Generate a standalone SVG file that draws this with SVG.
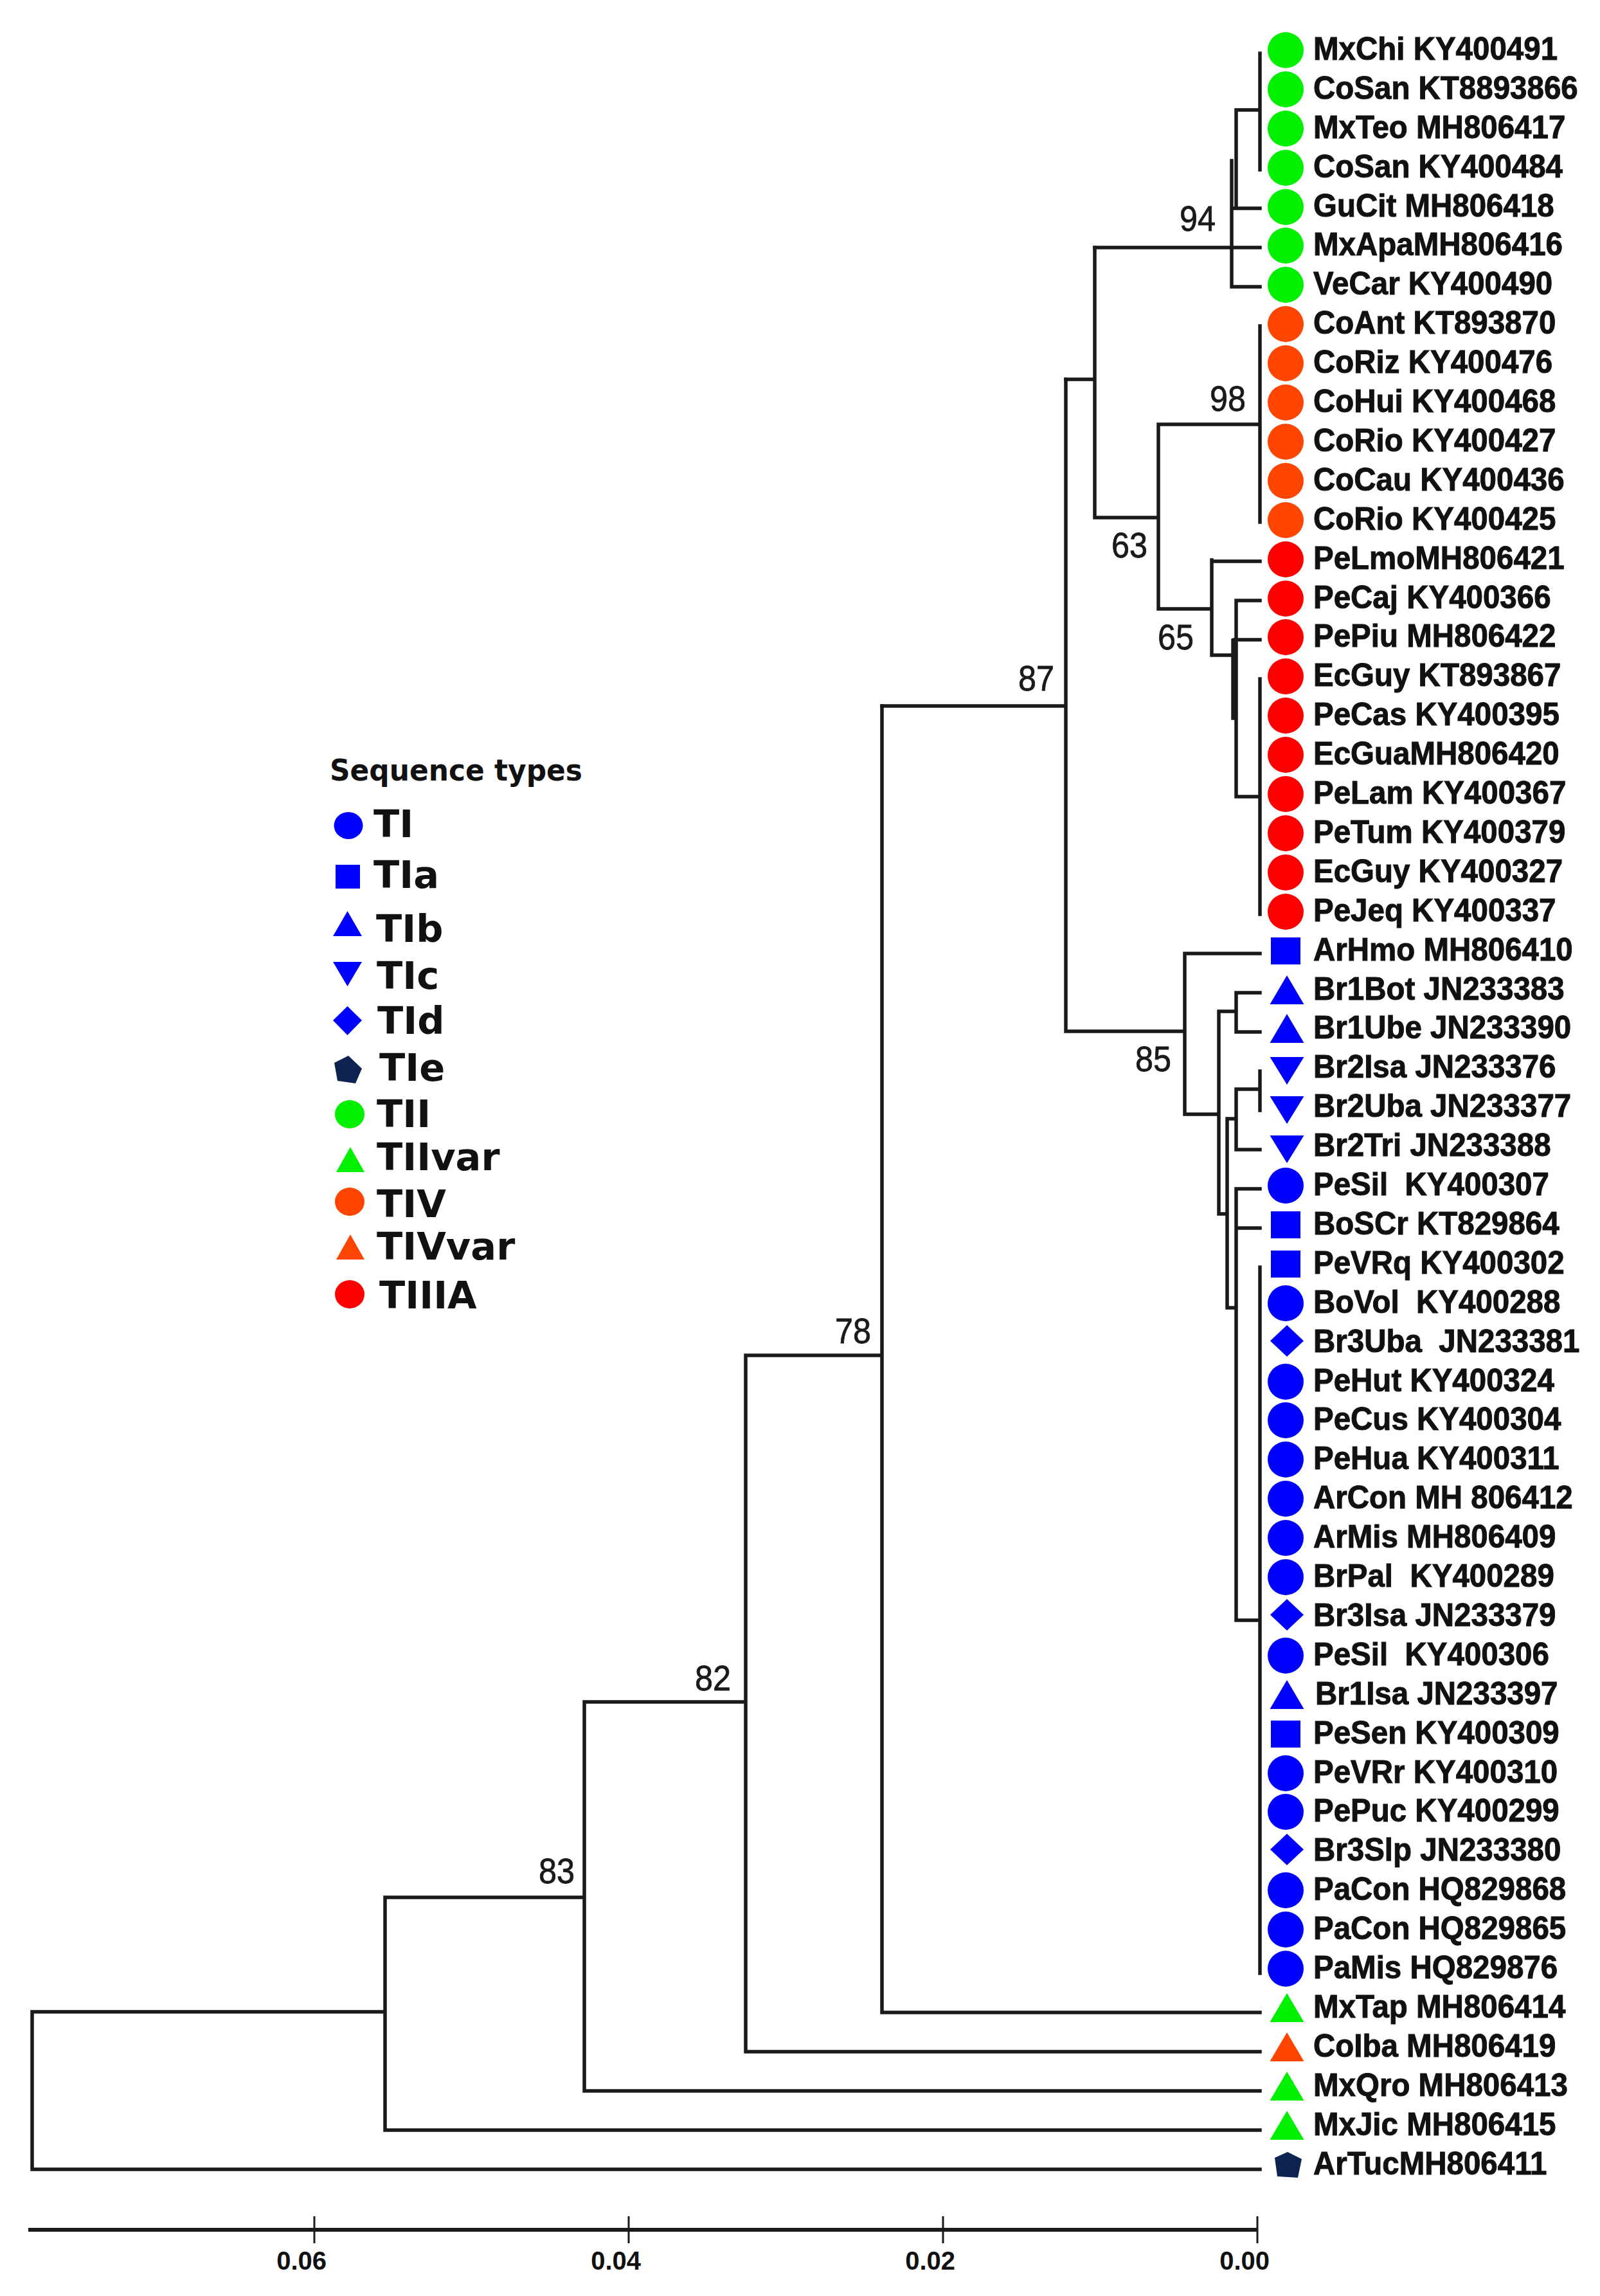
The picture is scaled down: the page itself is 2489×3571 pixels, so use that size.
<svg xmlns="http://www.w3.org/2000/svg" xmlns:xlink="http://www.w3.org/1999/xlink" width="2489" height="3571" viewBox="0 0 2489 3571">
<style>
.br{fill:none;stroke:#1a1a1a;stroke-width:5.5;stroke-linecap:square}
.lb{font-family:"Liberation Sans",Arial,sans-serif;font-weight:bold;font-size:50px;fill:#111;stroke:#111;stroke-width:1;white-space:pre}
.bs{font-family:"Liberation Sans",Arial,sans-serif;font-size:56px;fill:#1a1a1a;stroke:#1a1a1a;stroke-width:0.8;text-anchor:end}
.lg{font-family:"DejaVu Sans",Verdana,sans-serif;font-weight:bold;font-size:59px;fill:#111}
.ax{font-family:"Liberation Sans",Arial,sans-serif;font-weight:bold;font-size:40px;fill:#111;text-anchor:end}
.g{fill:#00f000}.o{fill:#ff4500}.r{fill:#ff0000}.b{fill:#0000ff}.n{fill:#0d2350}
</style>
<defs>
<circle id="c" cx="0" cy="0" r="28"/>
<rect id="sq" x="-23" y="-21" width="46" height="42"/>
<polygon id="tu" points="0,-23 26.5,22 -26.5,22"/>
<polygon id="td" points="-26.5,-17 26.5,-17 0,26"/>
<polygon id="dm" points="0,-27 26,-2.5 0,22 -26,-2.5"/>
<polygon id="pe" points="3,-20 25,-9 19,20 -13,18 -17,-11"/>
</defs>
<rect width="2489" height="3571" fill="#fff"/>

<g id="connectors">
<path class="br" d="M1960,83V264 M1923,171H1960 M1923,171V324 M1920,324H1960 M1916,250V446 M1703,385H1960 M1916,446H1960"/>
<path class="br" d="M1703,385V805 M1658,590H1703 M1703,805H1802 M1802,660V947 M1802,660H1960 M1960,507V812 M1802,947H1885 M1885,871V1019 M1885,873H1960 M1885,1019H1923 M1923,934V1239 M1923,934H1960 M1920,995H1960 M1918,996V1117 M1923,1239H1960 M1960,1056V1422"/>
<path class="br" d="M1658,590V1604 M1372,1098H1658 M1658,1604H1843 M1843,1483V1733 M1843,1483H1960 M1843,1733H1896 M1896,1573V1888 M1896,1573H1923 M1923,1544V1605 M1923,1544H1960 M1923,1605H1960 M1896,1888H1909 M1909,1740V2034 M1909,1740H1923 M1923,1694V1788 M1923,1694H1960 M1960,1666V1727 M1923,1788H1960 M1909,2034H1923 M1923,1849V2520 M1923,1849H1960 M1923,1910H1960 M1923,2520H1960 M1960,1971V3069"/>
<path class="br" d="M1372,1098V3130 M1372,3130H1960 M1160,2108H1372 M1160,2108V3191 M1160,3191H1960 M909,2647H1160 M909,2647V3252 M909,3252H1960 M599,2951H909 M599,2951V3313 M599,3313H1960 M50,3129H599 M50,3129V3374 M50,3374H1960"/>
<g id="bootstrap">
<text class="bs" transform="translate(1891,359) scale(0.9,1)">94</text>
<text class="bs" transform="translate(1938,639) scale(0.9,1)">98</text>
<text class="bs" transform="translate(1785,867) scale(0.9,1)">63</text>
<text class="bs" transform="translate(1857,1010) scale(0.9,1)">65</text>
<text class="bs" transform="translate(1822,1666) scale(0.9,1)">85</text>
<text class="bs" transform="translate(1640,1074) scale(0.9,1)">87</text>
<text class="bs" transform="translate(1355,2089) scale(0.9,1)">78</text>
<text class="bs" transform="translate(1137,2629) scale(0.9,1)">82</text>
<text class="bs" transform="translate(894,2929) scale(0.9,1)">83</text>
</g>
</g>

<g id="leaves">
<g id="leaf0"><use href="#c" x="2000" y="78" class="g"/><text class="lb" transform="translate(2043,93) scale(0.95,1)">MxChi KY400491</text></g>
<g id="leaf1"><use href="#c" x="2000" y="139" class="g"/><text class="lb" transform="translate(2043,154) scale(0.95,1)">CoSan KT8893866</text></g>
<g id="leaf2"><use href="#c" x="2000" y="200" class="g"/><text class="lb" transform="translate(2043,215) scale(0.95,1)">MxTeo MH806417</text></g>
<g id="leaf3"><use href="#c" x="2000" y="261" class="g"/><text class="lb" transform="translate(2043,276) scale(0.95,1)">CoSan KY400484</text></g>
<g id="leaf4"><use href="#c" x="2000" y="322" class="g"/><text class="lb" transform="translate(2043,337) scale(0.95,1)">GuCit MH806418</text></g>
<g id="leaf5"><use href="#c" x="2000" y="382" class="g"/><text class="lb" transform="translate(2043,397) scale(0.95,1)">MxApaMH806416</text></g>
<g id="leaf6"><use href="#c" x="2000" y="443" class="g"/><text class="lb" transform="translate(2043,458) scale(0.95,1)">VeCar KY400490</text></g>
<g id="leaf7"><use href="#c" x="2000" y="504" class="o"/><text class="lb" transform="translate(2043,519) scale(0.95,1)">CoAnt KT893870</text></g>
<g id="leaf8"><use href="#c" x="2000" y="565" class="o"/><text class="lb" transform="translate(2043,580) scale(0.95,1)">CoRiz KY400476</text></g>
<g id="leaf9"><use href="#c" x="2000" y="626" class="o"/><text class="lb" transform="translate(2043,641) scale(0.95,1)">CoHui KY400468</text></g>
<g id="leaf10"><use href="#c" x="2000" y="687" class="o"/><text class="lb" transform="translate(2043,702) scale(0.95,1)">CoRio KY400427</text></g>
<g id="leaf11"><use href="#c" x="2000" y="748" class="o"/><text class="lb" transform="translate(2043,763) scale(0.95,1)">CoCau KY400436</text></g>
<g id="leaf12"><use href="#c" x="2000" y="809" class="o"/><text class="lb" transform="translate(2043,824) scale(0.95,1)">CoRio KY400425</text></g>
<g id="leaf13"><use href="#c" x="2000" y="870" class="r"/><text class="lb" transform="translate(2043,885) scale(0.95,1)">PeLmoMH806421</text></g>
<g id="leaf14"><use href="#c" x="2000" y="931" class="r"/><text class="lb" transform="translate(2043,946) scale(0.95,1)">PeCaj KY400366</text></g>
<g id="leaf15"><use href="#c" x="2000" y="991" class="r"/><text class="lb" transform="translate(2043,1006) scale(0.95,1)">PePiu MH806422</text></g>
<g id="leaf16"><use href="#c" x="2000" y="1052" class="r"/><text class="lb" transform="translate(2043,1067) scale(0.95,1)">EcGuy KT893867</text></g>
<g id="leaf17"><use href="#c" x="2000" y="1113" class="r"/><text class="lb" transform="translate(2043,1128) scale(0.95,1)">PeCas KY400395</text></g>
<g id="leaf18"><use href="#c" x="2000" y="1174" class="r"/><text class="lb" transform="translate(2043,1189) scale(0.95,1)">EcGuaMH806420</text></g>
<g id="leaf19"><use href="#c" x="2000" y="1235" class="r"/><text class="lb" transform="translate(2043,1250) scale(0.95,1)">PeLam KY400367</text></g>
<g id="leaf20"><use href="#c" x="2000" y="1296" class="r"/><text class="lb" transform="translate(2043,1311) scale(0.95,1)">PeTum KY400379</text></g>
<g id="leaf21"><use href="#c" x="2000" y="1357" class="r"/><text class="lb" transform="translate(2043,1372) scale(0.95,1)">EcGuy KY400327</text></g>
<g id="leaf22"><use href="#c" x="2000" y="1418" class="r"/><text class="lb" transform="translate(2043,1433) scale(0.95,1)">PeJeq KY400337</text></g>
<g id="leaf23"><use href="#sq" x="2000" y="1479" class="b"/><text class="lb" transform="translate(2043,1494) scale(0.95,1)">ArHmo MH806410</text></g>
<g id="leaf24"><use href="#tu" x="2002" y="1540" class="b"/><text class="lb" transform="translate(2043,1555) scale(0.95,1)">Br1Bot JN233383</text></g>
<g id="leaf25"><use href="#tu" x="2002" y="1600" class="b"/><text class="lb" transform="translate(2043,1615) scale(0.95,1)">Br1Ube JN233390</text></g>
<g id="leaf26"><use href="#td" x="2002" y="1661" class="b"/><text class="lb" transform="translate(2043,1676) scale(0.95,1)">Br2Isa JN233376</text></g>
<g id="leaf27"><use href="#td" x="2002" y="1722" class="b"/><text class="lb" transform="translate(2043,1737) scale(0.95,1)">Br2Uba JN233377</text></g>
<g id="leaf28"><use href="#td" x="2002" y="1783" class="b"/><text class="lb" transform="translate(2043,1798) scale(0.95,1)">Br2Tri JN233388</text></g>
<g id="leaf29"><use href="#c" x="2000" y="1844" class="b"/><text class="lb" transform="translate(2043,1859) scale(0.95,1)">PeSil  KY400307</text></g>
<g id="leaf30"><use href="#sq" x="2000" y="1905" class="b"/><text class="lb" transform="translate(2043,1920) scale(0.95,1)">BoSCr KT829864</text></g>
<g id="leaf31"><use href="#sq" x="2000" y="1966" class="b"/><text class="lb" transform="translate(2043,1981) scale(0.95,1)">PeVRq KY400302</text></g>
<g id="leaf32"><use href="#c" x="2000" y="2027" class="b"/><text class="lb" transform="translate(2043,2042) scale(0.95,1)">BoVol  KY400288</text></g>
<g id="leaf33"><use href="#dm" x="2002" y="2088" class="b"/><text class="lb" transform="translate(2043,2103) scale(0.95,1)">Br3Uba  JN233381</text></g>
<g id="leaf34"><use href="#c" x="2000" y="2149" class="b"/><text class="lb" transform="translate(2043,2164) scale(0.95,1)">PeHut KY400324</text></g>
<g id="leaf35"><use href="#c" x="2000" y="2209" class="b"/><text class="lb" transform="translate(2043,2224) scale(0.95,1)">PeCus KY400304</text></g>
<g id="leaf36"><use href="#c" x="2000" y="2270" class="b"/><text class="lb" transform="translate(2043,2285) scale(0.95,1)">PeHua KY400311</text></g>
<g id="leaf37"><use href="#c" x="2000" y="2331" class="b"/><text class="lb" transform="translate(2043,2346) scale(0.95,1)">ArCon MH 806412</text></g>
<g id="leaf38"><use href="#c" x="2000" y="2392" class="b"/><text class="lb" transform="translate(2043,2407) scale(0.95,1)">ArMis MH806409</text></g>
<g id="leaf39"><use href="#c" x="2000" y="2453" class="b"/><text class="lb" transform="translate(2043,2468) scale(0.95,1)">BrPal  KY400289</text></g>
<g id="leaf40"><use href="#dm" x="2002" y="2514" class="b"/><text class="lb" transform="translate(2043,2529) scale(0.95,1)">Br3Isa JN233379</text></g>
<g id="leaf41"><use href="#c" x="2000" y="2575" class="b"/><text class="lb" transform="translate(2043,2590) scale(0.95,1)">PeSil  KY400306</text></g>
<g id="leaf42"><use href="#tu" x="2002" y="2636" class="b"/><text class="lb" transform="translate(2046,2651) scale(0.95,1)">Br1Isa JN233397</text></g>
<g id="leaf43"><use href="#sq" x="2000" y="2697" class="b"/><text class="lb" transform="translate(2043,2712) scale(0.95,1)">PeSen KY400309</text></g>
<g id="leaf44"><use href="#c" x="2000" y="2758" class="b"/><text class="lb" transform="translate(2043,2773) scale(0.95,1)">PeVRr KY400310</text></g>
<g id="leaf45"><use href="#c" x="2000" y="2818" class="b"/><text class="lb" transform="translate(2043,2833) scale(0.95,1)">PePuc KY400299</text></g>
<g id="leaf46"><use href="#dm" x="2002" y="2879" class="b"/><text class="lb" transform="translate(2043,2894) scale(0.95,1)">Br3Slp JN233380</text></g>
<g id="leaf47"><use href="#c" x="2000" y="2940" class="b"/><text class="lb" transform="translate(2043,2955) scale(0.95,1)">PaCon HQ829868</text></g>
<g id="leaf48"><use href="#c" x="2000" y="3001" class="b"/><text class="lb" transform="translate(2043,3016) scale(0.95,1)">PaCon HQ829865</text></g>
<g id="leaf49"><use href="#c" x="2000" y="3062" class="b"/><text class="lb" transform="translate(2043,3077) scale(0.95,1)">PaMis HQ829876</text></g>
<g id="leaf50"><use href="#tu" x="2002" y="3123" class="g"/><text class="lb" transform="translate(2043,3138) scale(0.95,1)">MxTap MH806414</text></g>
<g id="leaf51"><use href="#tu" x="2002" y="3184" class="o"/><text class="lb" transform="translate(2043,3199) scale(0.95,1)">CoIba MH806419</text></g>
<g id="leaf52"><use href="#tu" x="2002" y="3245" class="g"/><text class="lb" transform="translate(2043,3260) scale(0.95,1)">MxQro MH806413</text></g>
<g id="leaf53"><use href="#tu" x="2002" y="3306" class="g"/><text class="lb" transform="translate(2043,3321) scale(0.95,1)">MxJic MH806415</text></g>
<g id="leaf54"><use href="#pe" x="2000" y="3367" class="n"/><text class="lb" transform="translate(2043,3382) scale(0.95,1)">ArTucMH806411</text></g>
</g>

<g id="legend">
<text id="legend-title" x="513" y="1214" font-family="'DejaVu Sans',Verdana,sans-serif" font-weight="bold" font-size="46" fill="#111" textLength="393" lengthAdjust="spacingAndGlyphs">Sequence types</text>
<g id="lg-TI"><ellipse cx="542" cy="1284" rx="22.5" ry="21" class="b"/><text class="lg" x="581" y="1302">TI</text></g>
<g id="lg-TIa"><rect x="522" y="1345" width="38" height="37" class="b"/><text class="lg" x="581" y="1381">TIa</text></g>
<g id="lg-TIb"><polygon points="518,1456 563,1456 540.5,1417" class="b"/><text class="lg" x="585" y="1465">TIb</text></g>
<g id="lg-TIc"><polygon points="518,1496 563,1496 540.5,1534" class="b"/><text class="lg" x="586" y="1538">TIc</text></g>
<g id="lg-TId"><polygon points="518,1587 540.5,1565 563,1587 540.5,1610" class="b"/><text class="lg" x="587" y="1608">TId</text></g>
<g id="lg-TIe"><polygon points="542,1642 563,1662 553,1685 525,1681 520,1653" class="n"/><text class="lg" x="590" y="1681">TIe</text></g>
<g id="lg-TII"><ellipse cx="544" cy="1733" rx="23" ry="22" class="g"/><text class="lg" x="586" y="1753">TII</text></g>
<g id="lg-TIIvar"><polygon points="523,1823 567,1823 545,1784" class="g"/><text class="lg" x="586" y="1820">TIIvar</text></g>
<g id="lg-TIV"><ellipse cx="544" cy="1869" rx="23" ry="22" class="o"/><text class="lg" x="586" y="1893">TIV</text></g>
<g id="lg-TIVvar"><polygon points="523,1959 567,1959 545,1920" class="o"/><text class="lg" x="586" y="1959">TIVvar</text></g>
<g id="lg-TIIIA"><ellipse cx="544" cy="2013" rx="23" ry="22" class="r"/><text class="lg" x="590" y="2035">TIIIA</text></g>
</g>

<g id="scale-bar">
<path d="M44,3468H1956" stroke="#1a1a1a" stroke-width="6" fill="none"/>
<path d="M489,3447V3489 M978,3447V3489 M1467,3447V3489 M1956,3447V3489" stroke="#1a1a1a" stroke-width="3" fill="none"/>
<text class="ax" x="508" y="3530">0.06</text>
<text class="ax" x="997" y="3530">0.04</text>
<text class="ax" x="1486" y="3530">0.02</text>
<text class="ax" x="1975" y="3530">0.00</text>
</g>
</svg>
